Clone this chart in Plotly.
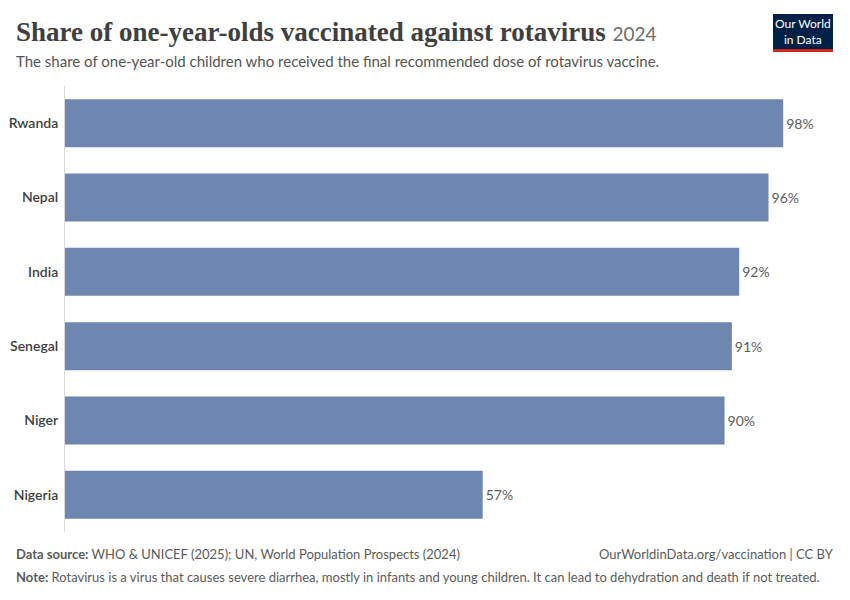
import plotly.graph_objects as go

countries = ["Rwanda", "Nepal", "India", "Senegal", "Niger", "Nigeria"]
shares = [98, 96, 92, 91, 90, 57]
value_labels = [f"{v}%" for v in shares]

# page body has an 8px margin; work in target (screen) coordinates and shift
OFF = 8
W, H = 850 - OFF, 600 - OFF
PL, PR, PT, PB = 65, 833, 86, 532  # plot area in screen coords
L, R, T, B = PL - OFF, W - (PR - OFF), PT - OFF, H - (PB - OFF)

fig = go.Figure()
fig.add_trace(go.Bar(
    y=countries, x=shares, orientation="h",
    marker=dict(color="#6D87B0", line=dict(width=0)),
    text=value_labels, textposition="outside", cliponaxis=False,
    textfont=dict(family="Lato", size=14, color="#5e5e5e"),
    width=0.645, hoverinfo="skip",
))

fig.update_layout(
    width=W, height=H,
    margin=dict(l=L, r=R, t=T, b=B, autoexpand=False),
    paper_bgcolor="white", plot_bgcolor="white",
    showlegend=False,
    font=dict(family="Lato", color="#555555"),
    xaxis=dict(range=[0, 104.8], showgrid=False, zeroline=False,
               showticklabels=False, ticks="", automargin=False),
    yaxis=dict(autorange=False, range=[5.5, -0.5], type="category",
               showgrid=False, zeroline=False, showline=True,
               linecolor="#dadada", linewidth=1, ticks="",
               ticklabelstandoff=3, automargin=False,
               tickfont=dict(family="Lato", size=14, color="#404040", weight=600)),
)

def px(x):  # screen x -> paper
    return (x - OFF - L) / (W - L - R)

def py(y):  # screen y -> paper
    return (H - (y - OFF) - B) / (H - T - B)

TX = 14  # anchor so that text starts at x=16

anns = [
    (TX, 32, "<b>Share of one-year-olds vaccinated against rotavirus</b> <span style='font-family:Lato;font-size:19px;color:#6e6e6e'>2024</span>",
     dict(family="Liberation Serif", size=27, color="#404040"), "left"),
    (TX, 61, "The share of one-year-old children who received the final recommended dose of rotavirus vaccine.",
     dict(family="Lato", size=15, color="#555555"), "left"),
    (TX, 554, "<b>Data source:</b> WHO & UNICEF (2025); UN, World Population Prospects (2024)",
     dict(family="Lato", size=13, color="#5b5b5b"), "left"),
    (TX, 577, "<b>Note:</b> Rotavirus is a virus that causes severe diarrhea, mostly in infants and young children. It can lead to dehydration and death if not treated.",
     dict(family="Lato", size=13, color="#5b5b5b"), "left"),
    (836, 554, "OurWorldinData.org/vaccination | CC BY",
     dict(family="Lato", size=13, color="#5b5b5b"), "right"),
]
for x, y, txt, f, anc in anns:
    fig.add_annotation(xref="paper", yref="paper", x=px(x), y=py(y),
                       xanchor=anc, yanchor="middle", showarrow=False, text=txt,
                       font=f, align="left")

# Logo
fig.add_shape(type="rect", xref="paper", yref="paper", x0=px(773), x1=px(833), y0=py(52), y1=py(14),
              fillcolor="#002147", line=dict(width=0), layer="above")
fig.add_shape(type="rect", xref="paper", yref="paper", x0=px(773), x1=px(833), y0=py(52), y1=py(49),
              fillcolor="#CE261E", line=dict(width=0), layer="above")
fig.add_annotation(xref="paper", yref="paper", x=px(803), y=py(31.5), xanchor="center", yanchor="middle",
                   showarrow=False, text="Our World<br>in Data",
                   font=dict(family="Lato", size=12, color="white"))

fig.write_html("out.html")
